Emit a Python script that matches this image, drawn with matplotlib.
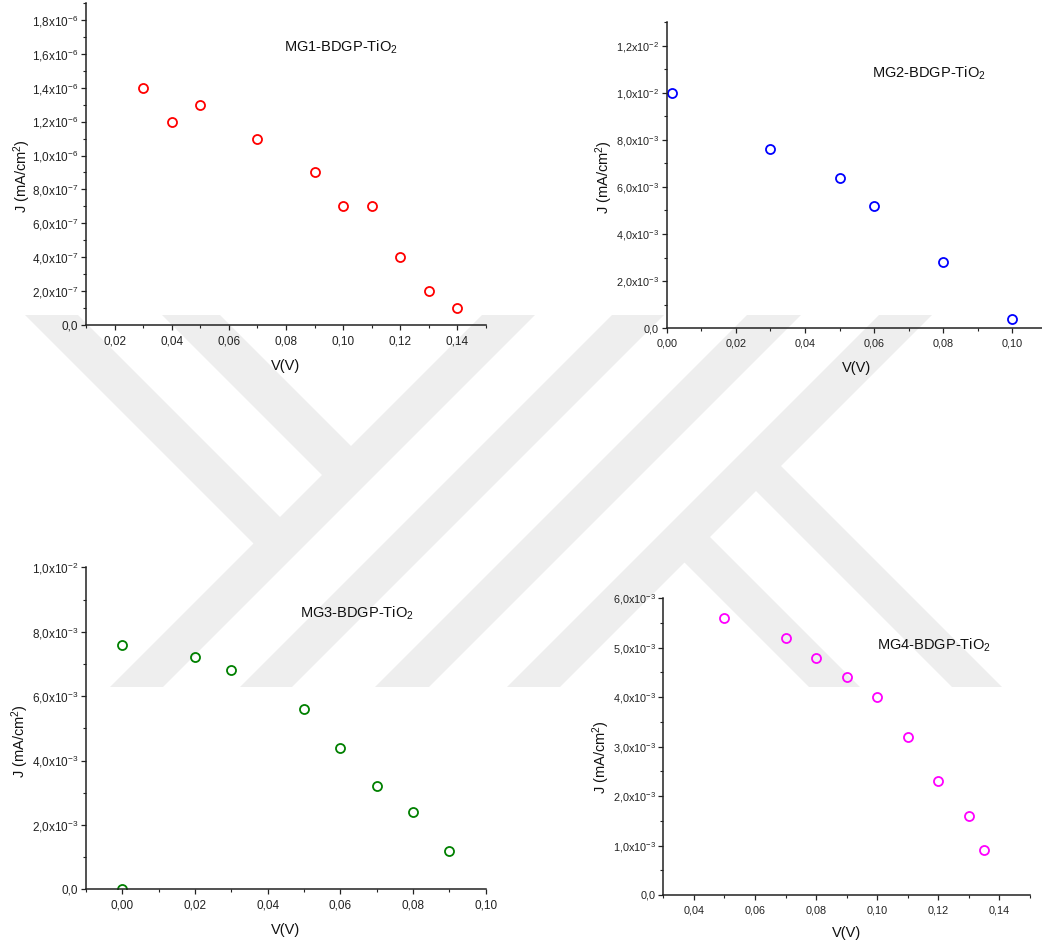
import math
import matplotlib
matplotlib.use("Agg")
import matplotlib.pyplot as plt
from matplotlib.patches import Polygon
from matplotlib.ticker import MultipleLocator, FuncFormatter

plt.rcParams['font.family'] = ['Liberation Sans', 'DejaVu Sans']
plt.rcParams['mathtext.default'] = 'regular'

W, H = 1042, 949

# ---- data: J-V points for the four samples ----
titles = ["MG1-BDGP-TiO$_2$", "MG2-BDGP-TiO$_2$", "MG3-BDGP-TiO$_2$", "MG4-BDGP-TiO$_2$"]
colors = ["#ff0000", "#0000ff", "#008000", "#ff00ff"]

v_mg1 = [0.03, 0.04, 0.05, 0.07, 0.09, 0.10, 0.11, 0.12, 0.13, 0.14]
j_mg1 = [1.4e-6, 1.2e-6, 1.3e-6, 1.1e-6, 9e-7, 7e-7, 7e-7, 4e-7, 2e-7, 1e-7]

v_mg2 = [0.0015, 0.03, 0.05, 0.06, 0.08, 0.10]
j_mg2 = [1.0e-2, 7.6e-3, 6.4e-3, 5.2e-3, 2.8e-3, 4e-4]

v_mg3 = [0.0, 0.0, 0.02, 0.03, 0.05, 0.06, 0.07, 0.08, 0.09]
j_mg3 = [0.0, 7.6e-3, 7.2e-3, 6.8e-3, 5.6e-3, 4.4e-3, 3.2e-3, 2.4e-3, 1.2e-3]

v_mg4 = [0.05, 0.07, 0.08, 0.09, 0.10, 0.11, 0.12, 0.13, 0.135]
j_mg4 = [5.6e-3, 5.2e-3, 4.8e-3, 4.4e-3, 4.0e-3, 3.2e-3, 2.3e-3, 1.6e-3, 9e-4]

x_limits = [(0.01, 0.15), (0.0, 0.11), (-0.01, 0.10), (0.03, 0.15)]
y_limits = [(0, 1.9e-6), (0, 0.013), (0, 0.010), (0, 0.006)]
y_major = [2e-7, 2e-3, 2e-3, 1e-3]


def px(x, y):
    return (x / W, 1 - y / H)


def sci_comma(v, pos):
    if abs(v) < 1e-15:
        return "0,0"
    e = math.floor(math.log10(abs(v)) + 1e-9)
    m = v / 10 ** e
    return f"{m:.1f}".replace(".", ",") + "x10$^{%d}$" % e


def dec_comma(v, pos):
    if abs(v) < 1e-12:
        v = 0.0
    return f"{v:.2f}".replace(".", ",")


fig = plt.figure(figsize=(W / 100, H / 100), dpi=100)
fig.patch.set_facecolor("white")

# ---- faint background emblem made of diagonal stripes ----
wm_color = "#eeeeee"
Y0, Y1 = 315, 687
slash_bands = [(797, 53), (927, 52), (1062, 54), (1194, 53)]   # x + y in [a, a + w]
polys = []
for a, w in slash_bands:
    polys.append([(a - Y0, Y0), (a + w - Y0, Y0), (a + w - Y1, Y1), (a - Y1, Y1)])
s = slash_bands[0][0] + 26
for c, w in [(-290, 53), (-153, 58)]:                          # x - y in [c, c + w]
    polys.append([(c + Y0, Y0), (c + w + Y0, Y0),
                  ((s + c + w) / 2, (s - c - w) / 2), ((s + c) / 2, (s - c) / 2)])
s = slash_bands[-1][0] + 26
for c, w in [(122, 51), (265, 50)]:
    polys.append([((s + c) / 2, (s - c) / 2), ((s + c + w) / 2, (s - c - w) / 2),
                  (c + w + Y1, Y1), (c + Y1, Y1)])
for p in polys:
    fig.patches.append(Polygon([px(x, y) for x, y in p], closed=True,
                               transform=fig.transFigure, facecolor=wm_color,
                               edgecolor="none", zorder=-10))

# ---- axes boxes (left, top, right, bottom) in pixels ----
boxes = [(86, 3, 486, 325), (666.7, 22, 1047, 328.3),
         (86, 567.3, 485.7, 889.3), (663.3, 598.3, 1030, 895)]
title_pos = [(0.495, 0.863), (0.54, 0.833), (0.535, 0.858), (0.583, 0.843)]
ylabel_pos = [(22, 176), (604, 177), (20, 741), (601, 757)]
xlabel_pos = [(286, 366), (857, 368), (286, 930), (847, 933)]
tick_size = [8.5, 7.8, 8.5, 7.8]

series = [(v_mg1, j_mg1), (v_mg2, j_mg2), (v_mg3, j_mg3), (v_mg4, j_mg4)]

for i, (vx, jy) in enumerate(series):
    l, t, r, b = boxes[i]
    ax = fig.add_axes([l / W, 1 - b / H, (r - l) / W, (b - t) / H])
    ax.patch.set_visible(False)
    ax.plot(vx, jy, linestyle="none", marker="o", markersize=6.5,
            markerfacecolor="none", markeredgecolor=colors[i],
            markeredgewidth=1.3)
    ax.set_xlim(*x_limits[i])
    ax.set_ylim(*y_limits[i])
    for side in ("top", "right"):
        ax.spines[side].set_visible(False)
    for side in ("left", "bottom"):
        ax.spines[side].set_linewidth(1.1)
        ax.spines[side].set_color("#222222")
        ax.spines[side].set_zorder(3)
    ax.xaxis.set_major_locator(MultipleLocator(0.02))
    ax.xaxis.set_minor_locator(MultipleLocator(0.01))
    ax.yaxis.set_major_locator(MultipleLocator(y_major[i]))
    ax.yaxis.set_minor_locator(MultipleLocator(y_major[i] / 2))
    ax.xaxis.set_major_formatter(FuncFormatter(dec_comma))
    ax.yaxis.set_major_formatter(FuncFormatter(sci_comma))
    ax.tick_params(which="major", direction="out", length=3.5, width=0.9,
                   labelsize=tick_size[i], colors="#222222")
    ax.tick_params(which="minor", direction="out", length=2, width=0.8,
                   colors="#222222")
    ax.tick_params(axis="x", which="major", pad=4)
    ax.tick_params(axis="y", which="major", pad=2)
    ax.text(title_pos[i][0], title_pos[i][1], titles[i], transform=ax.transAxes,
            ha="left", va="center", fontsize=10.5, color="#111111")
    fig.text(*px(*ylabel_pos[i]), "J (mA/cm$^2$)", rotation=90, ha="center",
             va="center", fontsize=10.5, color="#111111")
    fig.text(*px(*xlabel_pos[i]), "V(V)", ha="center", va="center",
             fontsize=10.5, color="#111111")

fig.savefig("out.png", dpi=100, facecolor="white")
